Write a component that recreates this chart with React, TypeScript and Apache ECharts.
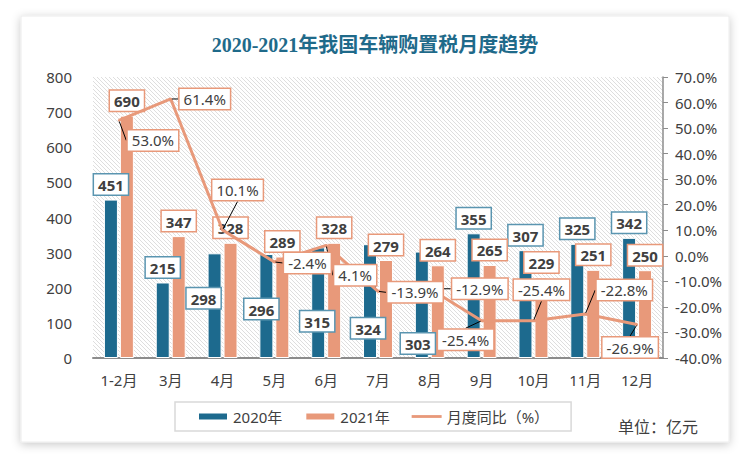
import React, { useEffect, useRef } from 'react';
import * as echarts from 'echarts';

const categories = ['1-2月', '3月', '4月', '5月', '6月', '7月', '8月', '9月', '10月', '11月', '12月'];
const tax2020 = [451, 215, 298, 296, 315, 324, 303, 355, 307, 325, 342];
const tax2021 = [690, 347, 328, 289, 328, 279, 264, 265, 229, 251, 250];
const yoy = [53.0, 61.4, 10.1, -2.4, 4.1, -13.9, -12.9, -25.4, -25.4, -22.8, -26.9];
const seriesNames = ['2020年', '2021年', '月度同比（%）'];
const titleText = '2020-2021年我国车辆购置税月度趋势';
const unitText = '单位：亿元';

// label placement (layout, not data)
const bar2020LabelShift: Record<number, [number, number]> = {
  2: [-11, 60],
  3: [-5, 70],
  4: [-1, 89],
  5: [-2, 99],
  6: [-4, 107],
};
const yoyLabelShift: [number, number][] = [
  [34, 20], [34, 0], [15, -40], [33, 1], [29, 30], [37, 1],
  [50, 0], [-16, 19], [8, -31], [39, -24], [-7, 23],
];

const C2020 = '#1d6a8e';
const C2021 = '#e8997a';
const FONT = '"Noto Sans", "Noto Sans CJK SC", sans-serif';

function makeHatch() {
  const c = document.createElement('canvas');
  c.width = 4;
  c.height = 4;
  const ctx = c.getContext('2d')!;
  ctx.fillStyle = '#ffffff';
  ctx.fillRect(0, 0, 4, 4);
  ctx.fillStyle = '#dedede';
  for (let i = 0; i < 4; i++) ctx.fillRect(i, i, 1, 1);
  return c;
}

export default function App() {
  const ref = useRef<HTMLDivElement>(null);
  useEffect(() => {
    if (!ref.current) return;
    const chart = echarts.init(ref.current, null, { renderer: 'svg' });
    const hatch = makeHatch();
    const pctLabel = {
      show: true,
      position: 'inside',
      formatter: (p: any) => Number(p.value).toFixed(1) + '%',
      fontSize: 15,
      fontFamily: FONT,
      color: '#404040',
      backgroundColor: '#fff',
      borderColor: C2021,
      borderWidth: 1.5,
      padding: [3, 4, 2, 4],
    };
    chart.setOption({
      animation: false,
      backgroundColor: '#fff',
      title: {
        text: titleText,
        left: 'center',
        top: 30,
        textStyle: {
          fontSize: 20,
          fontWeight: 'bold',
          color: '#1f6a8a',
          fontFamily: '"Liberation Serif", "Noto Sans CJK SC", serif',
        },
      },
      graphic: [
        {
          type: 'rect',
          z: -10,
          shape: { x: 21, y: 16, width: 708, height: 426 },
          style: {
            fill: '#fff',
            stroke: '#ececec',
            lineWidth: 1,
            shadowBlur: 10,
            shadowColor: 'rgba(0,0,0,0.22)',
            shadowOffsetY: 2,
          },
        },
        {
          type: 'text',
          left: 618,
          top: 419,
          style: { text: unitText, fontSize: 16, fill: '#404040', fontFamily: FONT },
        },
      ],
      grid: {
        left: 93,
        right: 87,
        top: 77,
        bottom: 102,
        show: true,
        borderWidth: 0,
        backgroundColor: { image: hatch, repeat: 'repeat' },
      },
      legend: {
        left: 175,
        top: 402,
        itemWidth: 30,
        itemHeight: 8,
        itemGap: 22,
        padding: [7, 22, 7, 22],
        borderColor: '#d9d9d9',
        borderWidth: 1.5,
        textStyle: { fontSize: 15, color: '#404040', fontFamily: FONT },
        data: [
          { name: seriesNames[0], icon: 'rect' },
          { name: seriesNames[1], icon: 'rect' },
          { name: seriesNames[2], icon: 'path://M0 0H32V3H0Z' },
        ],
      },
      xAxis: {
        type: 'category',
        data: categories,
        axisLine: { lineStyle: { color: '#8c8c8c', width: 2 } },
        axisTick: { show: false },
        axisLabel: { fontSize: 15, color: '#404040', margin: 14, fontFamily: FONT },
      },
      yAxis: [
        {
          type: 'value',
          min: 0,
          max: 800,
          interval: 100,
          axisLine: { show: false },
          axisTick: { show: false },
          splitLine: { show: false },
          axisLabel: { fontSize: 15, color: '#404040', margin: 21, fontFamily: FONT },
        },
        {
          type: 'value',
          min: -40,
          max: 70,
          interval: 10,
          position: 'right',
          axisLine: { show: true, lineStyle: { color: '#8c8c8c', width: 1.5 } },
          axisTick: { show: true, length: 5, lineStyle: { color: '#8c8c8c' } },
          splitLine: { show: false },
          axisLabel: {
            fontSize: 15,
            color: '#404040',
            margin: 12,
            fontFamily: FONT,
            formatter: (v: number) => v.toFixed(1) + '%',
          },
        },
      ],
      series: [
        {
          name: seriesNames[0],
          type: 'bar',
          barWidth: 14,
          barGap: '14%',
          itemStyle: { color: C2020, borderColor: '#fff', borderWidth: 1 },
          data: tax2020.map((v, i) => {
            const s = bar2020LabelShift[i];
            return s ? { value: v, label: { offset: s } } : v;
          }),
          label: {
            show: true,
            position: 'top',
            distance: 5,
            fontSize: 15,
            fontWeight: 'bold',
            fontFamily: FONT,
            color: '#404040',
            backgroundColor: '#fff',
            borderColor: '#5a95b0',
            borderWidth: 1.5,
            padding: [3, 4, 2, 4],
          },
          z: 2,
        },
        {
          name: seriesNames[1],
          type: 'bar',
          barWidth: 14,
          itemStyle: { color: C2021, borderColor: '#fff', borderWidth: 1 },
          data: tax2021,
          label: {
            show: true,
            position: 'top',
            distance: 5,
            fontSize: 15,
            fontWeight: 'bold',
            fontFamily: FONT,
            color: '#404040',
            backgroundColor: '#fff',
            borderColor: C2021,
            borderWidth: 1.5,
            padding: [3, 4, 2, 4],
          },
          z: 2,
        },
        {
          name: seriesNames[2],
          type: 'line',
          yAxisIndex: 1,
          data: yoy,
          symbol: 'circle',
          symbolSize: 2,
          showSymbol: true,
          lineStyle: { color: C2021, width: 3 },
          itemStyle: { color: C2021 },
          label: pctLabel,
          labelLayout: (p: any) => {
            const s = yoyLabelShift[p.dataIndex];
            return { dx: s[0], dy: s[1] };
          },
          labelLine: { show: true, lineStyle: { color: '#000', width: 1 } },
          z: 5,
        },
      ],
    });
    return () => chart.dispose();
  }, []);
  return (
    <div
      ref={ref}
      style={{ position: 'fixed', left: 0, top: 0, width: 750, height: 460 }}
    />
  );
}
